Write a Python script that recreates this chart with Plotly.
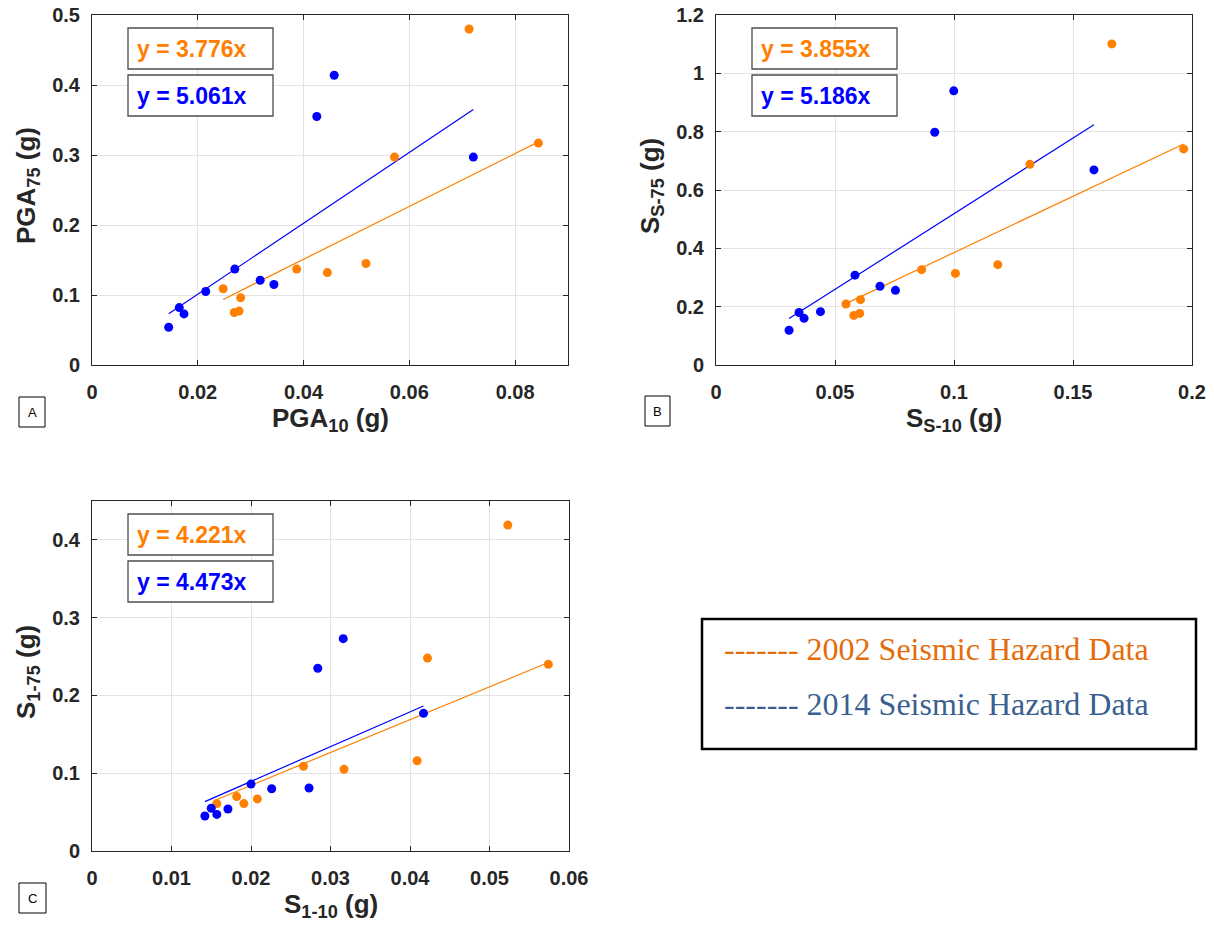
import plotly.graph_objects as go

W, H = 1214, 933

# ---- data -------------------------------------------------------------
# Panel A: PGA
A_x_2002 = [0.0713, 0.0844, 0.0572, 0.0518, 0.0445, 0.0387, 0.0248, 0.0281, 0.0269, 0.0278]
A_y_2002 = [0.480, 0.317, 0.297, 0.145, 0.132, 0.137, 0.109, 0.096, 0.075, 0.077]
A_x_2014 = [0.0145, 0.0165, 0.0174, 0.0215, 0.0270, 0.0318, 0.0344, 0.0425, 0.0458, 0.0721]
A_y_2014 = [0.054, 0.082, 0.073, 0.105, 0.137, 0.121, 0.115, 0.355, 0.414, 0.297]

# Panel B: Ss
B_x_2002 = [0.1663, 0.1965, 0.1319, 0.1184, 0.1006, 0.0864, 0.0546, 0.0607, 0.0579, 0.0604]
B_y_2002 = [1.101, 0.741, 0.688, 0.344, 0.314, 0.327, 0.209, 0.224, 0.170, 0.177]
B_x_2014 = [0.0307, 0.0349, 0.0370, 0.0439, 0.0584, 0.0689, 0.0754, 0.0919, 0.0999, 0.1588]
B_y_2014 = [0.119, 0.180, 0.160, 0.183, 0.308, 0.270, 0.256, 0.798, 0.940, 0.669]

# Panel C: S1
C_x_2002 = [0.0523, 0.0574, 0.0422, 0.0409, 0.0317, 0.0266, 0.0157, 0.0182, 0.0191, 0.0208]
C_y_2002 = [0.419, 0.240, 0.248, 0.116, 0.105, 0.109, 0.061, 0.070, 0.061, 0.067]
C_x_2014 = [0.0142, 0.0150, 0.0157, 0.0171, 0.0200, 0.0226, 0.0273, 0.0284, 0.0316, 0.0417]
C_y_2014 = [0.045, 0.055, 0.047, 0.054, 0.086, 0.080, 0.081, 0.235, 0.273, 0.177]

# slopes of the zero-intercept fits
slopes_2002 = [3.776, 3.855, 4.221]
slopes_2014 = [5.061, 5.186, 4.473]

panel_letters = ["A", "B", "C"]
x_titles = ["PGA<sub>10</sub> (g)", "S<sub>S-10</sub> (g)", "S<sub>1-10</sub> (g)"]
y_titles = ["PGA<sub>75</sub> (g)", "S<sub>S-75</sub> (g)", "S<sub>1-75</sub> (g)"]
legend_labels = ["2002 Seismic Hazard Data", "2014 Seismic Hazard Data"]

# ---- styling ----------------------------------------------------------
ORANGE = "#FF8000"
BLUE = "#0000FF"
LEG_ORANGE = "#E46C0A"
LEG_BLUE = "#3A5F91"
AXIS_COL = "#262626"
GRID_COL = "#E3E3E3"
SANS = "Liberation Sans, Arial, sans-serif"
SERIF = "Liberation Serif, Times New Roman, serif"


def px_x(p):
    return p / W


def px_y(p):
    return 1 - p / H


# plot-area boxes in pixels: (left, top, right, bottom)
boxes = [(92, 15, 568, 365), (716, 15, 1192, 365), (92, 501, 569, 851)]
x_ranges = [[0, 0.09], [0, 0.2], [0, 0.06]]
y_ranges = [[0, 0.5], [0, 1.2], [0, 0.45]]
x_dticks = [0.02, 0.05, 0.01]
y_dticks = [0.1, 0.2, 0.1]
letter_boxes = [(19, 397, 45, 427), (645, 396, 670, 426), (19, 883, 46, 913)]

series = [
    (A_x_2002, A_y_2002, A_x_2014, A_y_2014),
    (B_x_2002, B_y_2002, B_x_2014, B_y_2014),
    (C_x_2002, C_y_2002, C_x_2014, C_y_2014),
]

fig = go.Figure()
shapes = []
annotations = []

for i, (x02, y02, x14, y14) in enumerate(series):
    sfx = "" if i == 0 else str(i + 1)
    xa, ya = "x" + sfx, "y" + sfx

    # fitted lines y = k*x across each series' x extent
    for xs, k, col in ((x02, slopes_2002[i], ORANGE), (x14, slopes_2014[i], BLUE)):
        lx = [min(xs), max(xs)]
        fig.add_trace(go.Scatter(
            x=lx, y=[k * v for v in lx], mode="lines",
            line=dict(color=col, width=1.2), xaxis=xa, yaxis=ya,
            hoverinfo="skip"))
    fig.add_trace(go.Scatter(x=x02, y=y02, mode="markers",
                             marker=dict(color=ORANGE, size=9),
                             xaxis=xa, yaxis=ya))
    fig.add_trace(go.Scatter(x=x14, y=y14, mode="markers",
                             marker=dict(color=BLUE, size=9),
                             xaxis=xa, yaxis=ya))

    l, t, r, b = boxes[i]
    common = dict(showline=True, linecolor=AXIS_COL, linewidth=1, mirror="ticks",
                  ticks="inside", ticklen=5, tickcolor=AXIS_COL,
                  showgrid=True, gridcolor=GRID_COL, gridwidth=1,
                  zeroline=False, automargin=False,
                  tickfont=dict(family=SANS, size=20, color=AXIS_COL,
                                weight="bold"))
    fig.layout["xaxis" + sfx] = dict(
        domain=[px_x(l), px_x(r)], range=x_ranges[i], dtick=x_dticks[i],
        tick0=0, anchor=ya, ticklabelstandoff=9, **common)
    fig.layout["yaxis" + sfx] = dict(
        domain=[px_y(b), px_y(t)], range=y_ranges[i], dtick=y_dticks[i],
        tick0=0, anchor=xa, ticklabelstandoff=7, **common)

    # axis titles
    annotations.append(dict(
        x=px_x((l + r) / 2), y=px_y(b + 54), xref="paper", yref="paper",
        text=x_titles[i], showarrow=False, xanchor="center", yanchor="middle",
        font=dict(family=SANS, size=26, color=AXIS_COL, weight="bold")))
    annotations.append(dict(
        x=px_x(l - 65), y=px_y((t + b) / 2 - 4), xref="paper", yref="paper",
        text=y_titles[i], showarrow=False, textangle=-90,
        xanchor="center", yanchor="middle",
        font=dict(family=SANS, size=26, color=AXIS_COL, weight="bold")))

    # equation boxes
    for j, (k, col) in enumerate(((slopes_2002[i], ORANGE), (slopes_2014[i], BLUE))):
        bx0 = l + 36
        by0 = t + 13 + j * 47
        shapes.append(dict(type="rect", xref="paper", yref="paper",
                           x0=px_x(bx0), x1=px_x(bx0 + 145),
                           y0=px_y(by0), y1=px_y(by0 + 41),
                           line=dict(color="#4D4D4D", width=1.3),
                           fillcolor="white", layer="above"))
        annotations.append(dict(
            x=px_x(bx0 + 7), y=px_y(by0 + 21), xref="paper", yref="paper",
            text=f"y = {k:.3f}x", showarrow=False,
            xanchor="left", yanchor="middle",
            font=dict(family=SANS, size=23, color=col, weight="bold")))

    # panel letter
    lx0, ly0, lx1, ly1 = letter_boxes[i]
    shapes.append(dict(type="rect", xref="paper", yref="paper",
                       x0=px_x(lx0), x1=px_x(lx1), y0=px_y(ly1), y1=px_y(ly0),
                       line=dict(color="black", width=1)))
    annotations.append(dict(
        x=px_x((lx0 + lx1) / 2), y=px_y((ly0 + ly1) / 2), xref="paper",
        yref="paper", text=panel_letters[i], showarrow=False,
        xanchor="center", yanchor="middle",
        font=dict(family=SANS, size=13, color="black")))

# legend panel
shapes.append(dict(type="rect", xref="paper", yref="paper",
                   x0=px_x(702), x1=px_x(1196), y0=px_y(749), y1=px_y(619),
                   line=dict(color="black", width=2.5)))
for j, (lab, col) in enumerate(zip(legend_labels, (LEG_ORANGE, LEG_BLUE))):
    annotations.append(dict(
        x=px_x(722), y=px_y(649 + j * 55), xref="paper", yref="paper",
        text="------- " + lab, showarrow=False,
        xanchor="left", yanchor="middle",
        font=dict(family=SERIF, size=32, color=col)))

fig.update_layout(
    width=W, height=H, margin=dict(l=0, r=0, t=0, b=0, autoexpand=False),
    paper_bgcolor="white", plot_bgcolor="white",
    showlegend=False, shapes=shapes, annotations=annotations)

fig.write_html("out.html")
